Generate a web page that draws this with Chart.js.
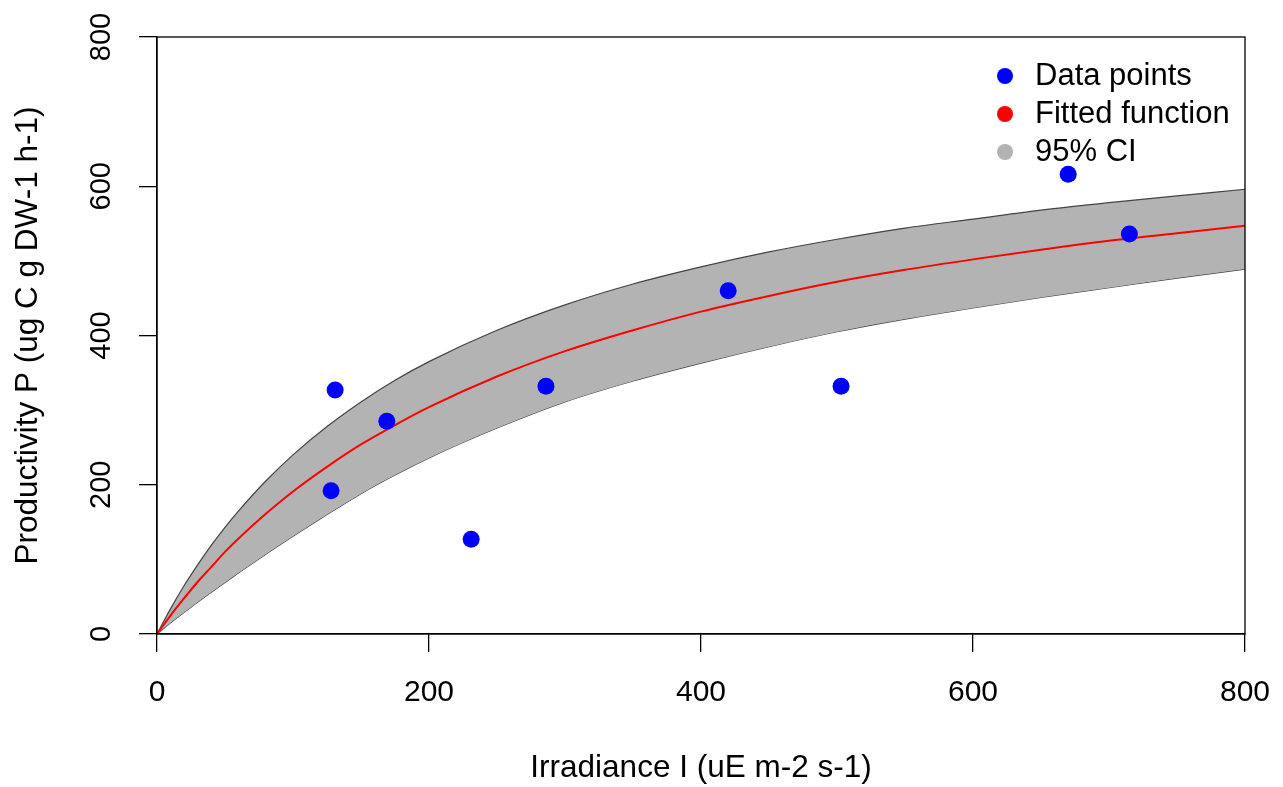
<!DOCTYPE html>
<html>
<head>
<meta charset="utf-8">
<script src="https://cdn.jsdelivr.net/npm/chart.js@4.4.1/dist/chart.umd.min.js"></script>
<style>
  html, body { margin: 0; padding: 0; background: #fff; }
  #wrap { width: 1283px; height: 787px; }
</style>
</head>
<body>
<div id="wrap"><canvas id="diagram"></canvas></div>
<script>
// values
var pointX = [128, 131, 169, 231, 286, 420, 503, 670, 715];
var pointY = [192, 327, 285, 127, 332, 460, 332, 616, 536];

var curveX = [0, 10, 20, 30, 40, 50, 60, 80, 100, 125, 150, 175, 200, 250, 300, 350, 400, 450, 500, 550, 600, 650, 700, 750, 800];
var fitY   = [0, 25, 48, 70, 90, 110, 128, 161, 191, 224, 254, 280, 304, 345, 379, 407, 432, 453, 472, 488, 502, 515, 527, 537, 547];
var upperY = [0, 34, 65, 93, 119, 143, 165, 205, 240, 278, 311, 340, 365, 407, 441, 469, 492, 512, 529, 544, 556, 568, 578, 587, 596];
var lowerY = [0, 15, 29, 43, 56, 69, 82, 107, 131, 160, 188, 213, 236, 276, 311, 339, 363, 385, 405, 422, 437, 451, 464, 477, 489];

var tickValues = [0, 200, 400, 600, 800];
var legendLabels = ["Data points", "Fitted function", "95% CI"];
var legendColours = ["#0000ff", "#ff0000", "#b3b3b3"];

function toXY(xs, ys) {
    var out = [];
    for (var i = 0; i < xs.length; i++) {
        out.push({x: xs[i], y: ys[i]});
    }
    return out;
}

var fontName = "'Liberation Sans', Arial, sans-serif";

// box round the plot, rotated y labels, legend (R style)
var rStyle = {
    id: 'rStyle',
    afterDraw: function(chart) {
        var ctx = chart.ctx;
        var a = chart.chartArea;
        ctx.save();
        ctx.strokeStyle = '#000';
        ctx.lineWidth = 1.3;
        ctx.strokeRect(a.left, a.top, a.right - a.left, a.bottom - a.top);

        var ys = chart.scales.y;
        ctx.fillStyle = '#000';
        ctx.font = '29px ' + fontName;
        ctx.textAlign = 'center';
        ctx.textBaseline = 'middle';
        tickValues.forEach(function(v) {
            ctx.save();
            ctx.translate(102, ys.getPixelForValue(v));
            ctx.rotate(-Math.PI / 2);
            ctx.fillText(String(v), 0, 0);
            ctx.restore();
        });

        ctx.textAlign = 'left';
        ctx.font = '31px ' + fontName;
        for (var i = 0; i < legendLabels.length; i++) {
            var ly = 76 + i * 38;
            ctx.beginPath();
            ctx.fillStyle = legendColours[i];
            ctx.arc(1005, ly, 8, 0, Math.PI * 2);
            ctx.fill();
            ctx.fillStyle = '#000';
            ctx.fillText(legendLabels[i], 1035, ly);
        }
        ctx.restore();
    }
};

var ctx = document.getElementById('diagram');
var chart = new Chart(ctx, {
    type: 'scatter',
    data: {
        datasets: [
            {
                label: 'Data points',
                data: toXY(pointX, pointY),
                backgroundColor: '#0000ff',
                borderWidth: 0,
                pointRadius: 8.5,
                order: 0
            },
            {
                label: 'Fitted function',
                type: 'line',
                data: toXY(curveX, fitY),
                borderColor: '#ff0000',
                borderWidth: 2,
                pointRadius: 0,
                cubicInterpolationMode: 'monotone',
                fill: false,
                order: 1
            },
            {
                label: 'upper',
                type: 'line',
                data: toXY(curveX, upperY),
                borderColor: '#444444',
                borderWidth: 1.2,
                backgroundColor: '#b3b3b3',
                pointRadius: 0,
                cubicInterpolationMode: 'monotone',
                fill: 3,
                order: 2
            },
            {
                label: 'lower',
                type: 'line',
                data: toXY(curveX, lowerY),
                borderColor: '#444444',
                borderWidth: 1.2,
                pointRadius: 0,
                cubicInterpolationMode: 'monotone',
                fill: false,
                order: 3
            }
        ]
    },
    options: {
        responsive: true,
        maintainAspectRatio: false,
        animation: false,
        layout: { padding: { top: 37, right: 38, left: 0, bottom: 0 } },
        plugins: {
            legend: { display: false },
            tooltip: { enabled: false }
        },
        scales: {
            x: {
                type: 'linear',
                min: 0,
                max: 800,
                afterFit: function(s) {
                    s.height = 153;
                    s.paddingLeft = 0;
                    s.paddingRight = 0;
                },
                afterBuildTicks: function(s) {
                    s.ticks = tickValues.map(function(v) { return {value: v}; });
                },
                ticks: {
                    color: '#000',
                    padding: 23,
                    font: { family: fontName, size: 30 }
                },
                grid: {
                    drawOnChartArea: false,
                    drawTicks: true,
                    tickLength: 18,
                    color: '#000',
                    lineWidth: 1.3
                },
                border: { display: true, color: '#000', width: 1.3 },
                title: {
                    display: true,
                    text: 'Irradiance I (uE m-2 s-1)',
                    color: '#000',
                    padding: { top: 0, bottom: 0 },
                    font: { family: fontName, size: 31.5 }
                }
            },
            y: {
                type: 'linear',
                min: 0,
                max: 800,
                afterFit: function(s) {
                    s.width = 157;
                    s.paddingTop = 0;
                    s.paddingBottom = 0;
                },
                afterBuildTicks: function(s) {
                    s.ticks = tickValues.map(function(v) { return {value: v}; });
                },
                ticks: { display: false },
                grid: {
                    drawOnChartArea: false,
                    drawTicks: true,
                    tickLength: 18,
                    color: '#000',
                    lineWidth: 1.3
                },
                border: { display: true, color: '#000', width: 1.3 },
                title: {
                    display: true,
                    text: 'Productivity P (ug C g DW-1 h-1)',
                    color: '#000',
                    padding: { top: 9, bottom: 0 },
                    font: { family: fontName, size: 31.5 }
                }
            }
        }
    },
    plugins: [rStyle]
});
</script>
</body>
</html>
